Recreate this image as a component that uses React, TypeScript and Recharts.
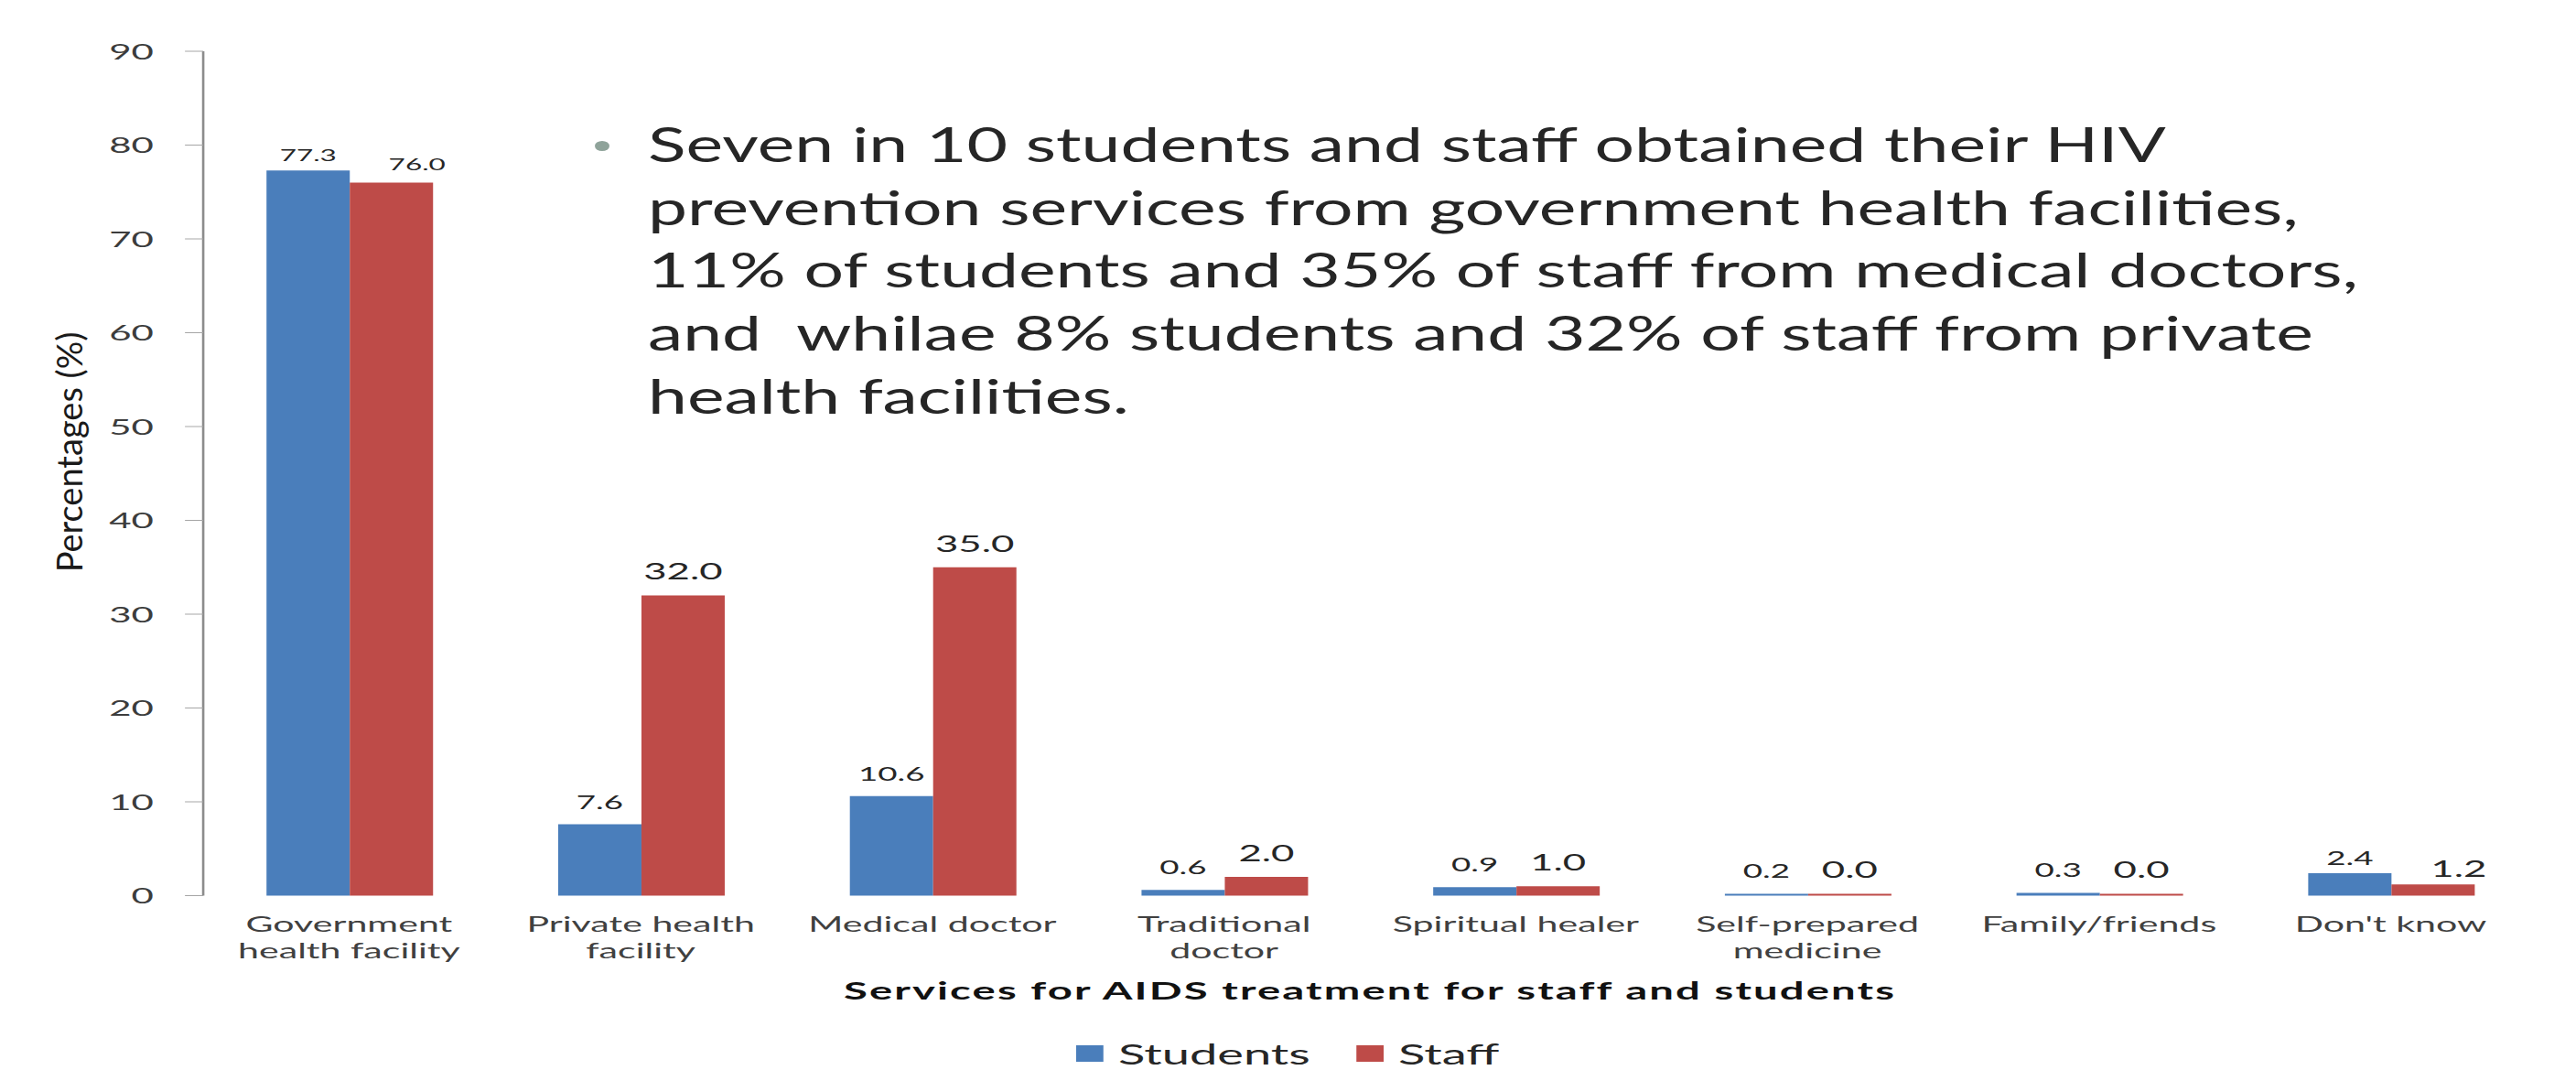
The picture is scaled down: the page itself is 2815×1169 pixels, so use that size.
import { Bar, BarChart, LabelList, Legend, XAxis, YAxis } from 'recharts';

const categories = [
  'Government\nhealth facility',
  'Private health\nfacility',
  'Medical doctor',
  'Traditional\ndoctor',
  'Spiritual healer',
  'Self-prepared\nmedicine',
  'Family/friends',
  "Don't know",
];
const students = [77.3, 7.6, 10.6, 0.6, 0.9, 0.2, 0.3, 2.4];
const staff = [76.0, 32.0, 35.0, 2.0, 1.0, 0.0, 0.0, 1.2];
const yTicks = [0, 10, 20, 30, 40, 50, 60, 70, 80, 90];
const edgeTicks = [0, 1, 2, 3, 4, 5, 6, 7, 8];
const bulletLines = [
  'Seven in 10 students and staff obtained their HIV',
  'prevention services from government health facilities,',
  '11% of students and 35% of staff from medical doctors,',
  'and  whilae 8% students and 32% of staff from private',
  'health facilities.',
];

const data = categories.map((name, i) => ({ name, students: students[i], staff: staff[i] }));

const BLUE = '#4a7ebb';
const RED = '#be4b48';
const PAGE_W = 2815;
const PAGE_H = 1169;
// the source picture is stretched sideways, so the chart is drawn narrow and scaled
const STRETCH = 1.75;
const CHART_W = PAGE_W / STRETCH;
const TEXT_STRETCH = 1.45;
const FONT = 'Lato, "Open Sans", sans-serif';

const series = [
  { key: 'students', name: 'Students', color: BLUE },
  { key: 'staff', name: 'Staff', color: RED },
];

const makeValueLabel = (key: string) => (props: any) => {
  const { x, y, width, value, index } = props;
  const first = index === 0;
  const last = index === categories.length - 1;
  const isStaff = key === 'staff';
  const size = first ? 18 : isStaff ? 25 : 21;
  const gap = first ? (isStaff ? 13 : 10) : last ? (isStaff ? 8 : 9) : 17;
  const dx = isStaff && (first || last) ? 16 : 0;
  return (
    <text
      x={Number(x) + Number(width) / 2 + dx}
      y={Number(y) - gap}
      textAnchor="middle"
      fontFamily={FONT}
      fontSize={size}
      fill="#262626"
    >
      {Number(value).toFixed(1)}
    </text>
  );
};

const CategoryTick = (props: any) => {
  const { x, y, payload } = props;
  const lines = String(payload.value).split('\n');
  return (
    <text x={x} y={y} textAnchor="middle" fontFamily={FONT} fontSize={23.5} fill="#404040">
      {lines.map((line, i) => (
        <tspan key={i} x={x} y={y + 39.5 + i * 29}>
          {line}
        </tspan>
      ))}
    </text>
  );
};

const XTitle = (props: any) => {
  const vb = props.viewBox || {};
  return (
    <text
      x={vb.x + vb.width / 2}
      y={vb.y + 113.5}
      textAnchor="middle"
      fontFamily={FONT}
      fontWeight={700}
      fontSize={27}
      letterSpacing={1.2}
      fill="#111"
    >
      Services for AIDS treatment for staff and students
    </text>
  );
};

const LegendContent = () => (
  <div
    style={{
      display: 'flex',
      justifyContent: 'center',
      alignItems: 'center',
      height: 36,
      fontFamily: FONT,
      fontSize: 31,
      color: '#262626',
    }}
  >
    {series.map((s, i) => (
      <div key={s.key} style={{ display: 'flex', alignItems: 'center', marginLeft: i ? 29 : 0 }}>
        <span style={{ width: 17, height: 18, background: s.color, marginRight: 9 }} />
        <span>{s.name}</span>
      </div>
    ))}
  </div>
);

export default function App() {
  return (
    <div style={{ position: 'relative', width: PAGE_W, height: PAGE_H, overflow: 'hidden', background: '#fff' }}>
      <style>{'body{margin:0}'}</style>
      <div
        style={{
          position: 'absolute',
          left: 0,
          top: 0,
          width: CHART_W,
          height: PAGE_H,
          transform: `scaleX(${STRETCH})`,
          transformOrigin: '0 0',
        }}
      >
        <BarChart
          width={CHART_W}
          height={PAGE_H}
          data={data}
          margin={{ top: 56, right: 24.6, bottom: 0, left: 0 }}
          barCategoryGap="21.7%"
          barGap={0}
        >
          <XAxis
            xAxisId="edge"
            type="number"
            domain={[0, 8]}
            ticks={edgeTicks}
            allowDataOverflow
            height={0}
            tick={false}
            tickSize={9}
            stroke="#8c8c8c"
            axisLine={{ stroke: '#8c8c8c', strokeWidth: 1.5 }}
            tickLine={{ stroke: '#8c8c8c' }}
          />
          <XAxis
            xAxisId="cat"
            dataKey="name"
            height={154.5}
            axisLine={false}
            tickLine={false}
            tickSize={0}
            tickMargin={0}
            interval={0}
            tick={<CategoryTick />}
            label={{ content: <XTitle /> }}
          />
          <YAxis
            width={126.9}
            domain={[0, 90]}
            ticks={yTicks}
            interval={0}
            tickSize={11.4}
            tickMargin={19.5}
            axisLine={{ stroke: '#8c8c8c', strokeWidth: 1.5 }}
            tickLine={{ stroke: '#a6a6a6' }}
            tick={{ fill: '#3c3c3c', fontSize: 24, fontFamily: FONT }}
          />
          <Legend
            verticalAlign="bottom"
            content={<LegendContent />}
            wrapperStyle={{ left: 0, width: CHART_W, bottom: 0, height: 36 }}
          />
          {series.map((s) => (
            <Bar
              key={s.key}
              xAxisId="cat"
              dataKey={s.key}
              name={s.name}
              fill={s.color}
              minPointSize={2}
              isAnimationActive={false}
            >
              <LabelList dataKey={s.key} content={makeValueLabel(s.key)} />
            </Bar>
          ))}
        </BarChart>
      </div>
      <div
        style={{
          position: 'absolute',
          left: 75 - 200,
          top: 494 - 25,
          width: 400,
          height: 50,
          lineHeight: '50px',
          textAlign: 'center',
          transform: 'rotate(-90deg)',
          transformOrigin: '50% 50%',
          fontFamily: FONT,
          fontSize: 38,
          color: '#1a1a1a',
          whiteSpace: 'nowrap',
        }}
      >
        Percentages (%)
      </div>
      <div
        style={{
          position: 'absolute',
          left: 650,
          top: 154,
          width: 16,
          height: 11,
          borderRadius: '50%',
          background: '#8fa39a',
        }}
      />
      <div
        style={{
          position: 'absolute',
          left: 708,
          top: 123,
          transform: `scaleX(${TEXT_STRETCH})`,
          transformOrigin: '0 0',
          fontFamily: FONT,
          fontSize: 53,
          lineHeight: '68.7px',
          color: '#262626',
          whiteSpace: 'pre',
        }}
      >
        {bulletLines.map((line) => (
          <div key={line}>{line}</div>
        ))}
      </div>
    </div>
  );
}
